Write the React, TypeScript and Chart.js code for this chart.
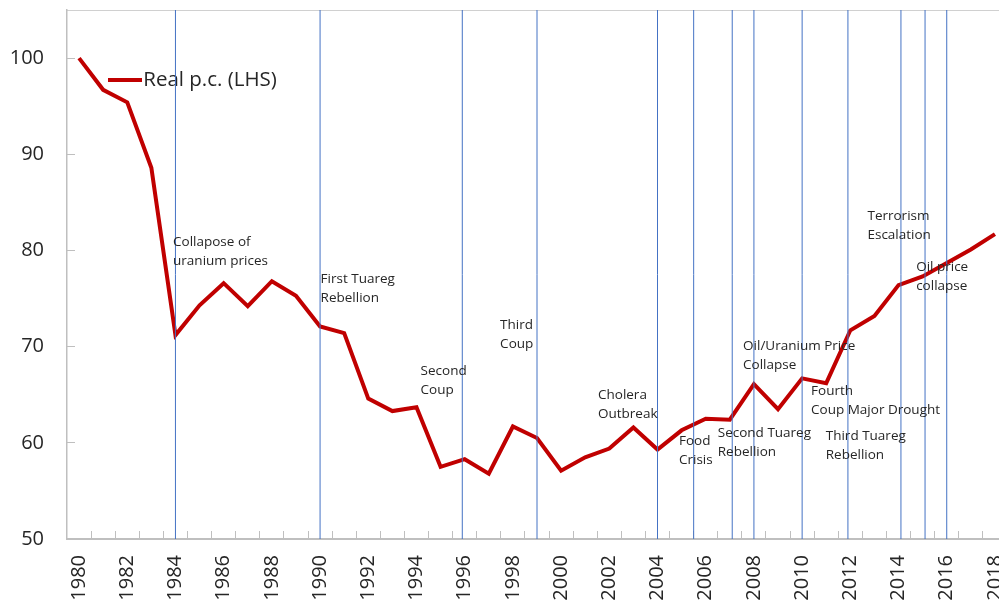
import React, { useEffect, useRef } from 'react';
import { Chart, registerables } from 'chart.js';

Chart.register(...registerables);

const years = [
  '1980', '1981', '1982', '1983', '1984', '1985', '1986', '1987', '1988', '1989',
  '1990', '1991', '1992', '1993', '1994', '1995', '1996', '1997', '1998', '1999',
  '2000', '2001', '2002', '2003', '2004', '2005', '2006', '2007', '2008', '2009',
  '2010', '2011', '2012', '2013', '2014', '2015', '2016', '2017', '2018',
];

const realPC = [
  100, 96.7, 95.4, 88.6, 71.2, 74.3, 76.6, 74.2, 76.8, 75.3,
  72.1, 71.4, 64.6, 63.3, 63.7, 57.5, 58.3, 56.8, 61.7, 60.5,
  57.1, 58.5, 59.4, 61.6, 59.3, 61.3, 62.5, 62.4, 66.1, 63.5,
  66.7, 66.2, 71.7, 73.2, 76.4, 77.3, 78.7, 80.1, 81.7,
];

const eventYears = [
  1984, 1990, 1995.9, 1999, 2004, 2005.5, 2007.1, 2008, 2010, 2011.9, 2014.1, 2015.1, 2016,
];

const eventTexts = [
  ['Collapose of', 'uranium prices'],
  ['First Tuareg', 'Rebellion'],
  ['Second', 'Coup'],
  ['Third', 'Coup'],
  ['Cholera', 'Outbreak'],
  ['Food', 'Crisis'],
  ['Second Tuareg', 'Rebellion'],
  ['Oil/Uranium Price', 'Collapse'],
  ['Fourth', 'Coup Major Drought'],
  ['Third Tuareg', 'Rebellion'],
  ['Terrorism', 'Escalation'],
  ['Oil price', 'collapse'],
];
const eventTextYears = [
  1983.9, 1990.02, 1994.17, 1997.47, 2001.53, 2004.89, 2006.5, 2007.55, 2010.37, 2010.98, 2012.71, 2014.73,
];
const eventTextValues = [
  80.88, 77.03, 67.5, 72.25, 64.97, 60.21, 61.02, 70.07, 65.32, 60.74, 83.58, 78.31,
];

const yMin = 50;
const yMax = 105;
const yStep = 10;

const TEXT = '#262626';
const AXIS = '#BFBFBF';
const RED = '#C00000';

const eventLabelPlugin = {
  id: 'eventLabels',
  afterDatasetsDraw(chart: any) {
    const { ctx, scales } = chart;
    const xs = scales.x2;
    const ys = scales.y;
    ctx.save();
    ctx.font = '13.5px "Open Sans"';
    ctx.fillStyle = TEXT;
    ctx.textBaseline = 'middle';
    ctx.textAlign = 'left';
    eventTexts.forEach((lines, i) => {
      const px = xs.getPixelForValue(eventTextYears[i]);
      const py = ys.getPixelForValue(eventTextValues[i]);
      lines.forEach((t, j) => ctx.fillText(t, px, py + j * 19));
    });
    ctx.restore();
  },
};

function makeLegendSymbol(): HTMLCanvasElement {
  // legend line sample: 34px red stroke sitting at the right end of a 52px image
  const c = document.createElement('canvas');
  c.width = 52;
  c.height = 4;
  const g = c.getContext('2d');
  if (g) {
    g.fillStyle = RED;
    g.fillRect(18, 0, 34, 4);
  }
  return c;
}

export default function App() {
  const ref = useRef<HTMLCanvasElement | null>(null);

  useEffect(() => {
    if (!ref.current) return;
    Chart.defaults.font.family = '"Open Sans", sans-serif';
    const eventDatasets = eventYears.map((e) => ({
      type: 'line' as const,
      label: 'event',
      data: [
        { x: e, y: yMin },
        { x: e, y: yMax },
      ],
      xAxisID: 'x2',
      yAxisID: 'y',
      borderColor: '#4472C4',
      borderWidth: 1,
      pointRadius: 0,
      order: 0,
    }));
    const chart = new Chart(ref.current, {
      type: 'line',
      data: {
        labels: years,
        datasets: [
          {
            label: 'Real p.c. (LHS)',
            data: realPC,
            xAxisID: 'x',
            yAxisID: 'y',
            borderColor: RED,
            backgroundColor: RED,
            borderWidth: 4,
            pointRadius: 0,
            tension: 0,
            order: 1,
          } as any,
          ...(eventDatasets as any[]),
        ],
      },
      options: {
        responsive: false,
        animation: false,
        layout: { padding: { top: 10, left: 0, right: 3, bottom: 0 } },
        plugins: {
          tooltip: { enabled: false },
          legend: {
            position: 'chartArea' as any,
            align: 'start',
            title: { display: true, text: '', font: { size: 10, lineHeight: 1 }, padding: { top: 28, bottom: 0 } },
            labels: {
              usePointStyle: true,
              pointStyle: makeLegendSymbol() as any,
              pointStyleWidth: 34,
              padding: 32,
              color: TEXT,
              font: { size: 20.5 },
              filter: (item: any) => item.datasetIndex === 0,
            },
          },
        },
        scales: {
          x: {
            type: 'category',
            position: 'bottom',
            offset: true,
            afterFit: (s: any) => {
              s.height = 81;
              s.paddingLeft = 0;
              s.paddingRight = 0;
            },
            grid: { drawOnChartArea: false, offset: true, tickLength: -8, color: AXIS, lineWidth: 1 },
            border: { display: true, color: AXIS, width: 2 },
            ticks: {
              autoSkip: false,
              minRotation: 90,
              maxRotation: 90,
              padding: 24,
              color: TEXT,
              font: { size: 20 },
              callback: (_v: any, i: number) => (i % 2 === 0 ? years[i] : ''),
            },
          },
          x2: {
            type: 'linear',
            position: 'top',
            min: 1979.5,
            max: 2018.5,
            afterFit: (s: any) => {
              s.height = 0;
              s.paddingLeft = 0;
              s.paddingRight = 0;
            },
            ticks: { display: false },
            grid: { drawOnChartArea: false, drawTicks: false },
            border: { display: true, color: '#D0D0D0', width: 1 },
          },
          y: {
            type: 'linear',
            position: 'left',
            min: yMin,
            max: yMax,
            afterFit: (s: any) => {
              s.width = 67;
              s.paddingTop = 0;
              s.paddingBottom = 0;
            },
            grid: { drawOnChartArea: false, tickLength: -8, color: AXIS, lineWidth: 1 },
            border: { display: true, color: AXIS, width: 1.5 },
            ticks: {
              stepSize: yStep,
              includeBounds: false,
              padding: 31,
              color: TEXT,
              font: { size: 20 },
            },
          },
        },
      },
      plugins: [eventLabelPlugin],
    });
    return () => chart.destroy();
  }, []);

  return (
    <div style={{ position: 'fixed', left: 0, top: 0, width: 999, height: 601, overflow: 'hidden', background: '#fff' }}>
      <canvas ref={ref} width={1010} height={620} style={{ display: 'block' }} />
    </div>
  );
}
